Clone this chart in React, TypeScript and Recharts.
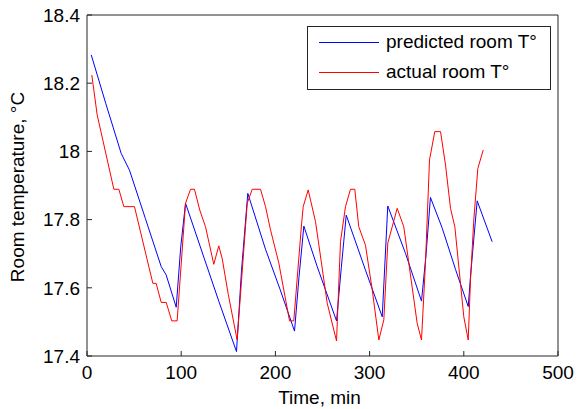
import { LineChart, Line, XAxis, YAxis } from 'recharts';

// time (min) / temperature (°C)
const predictedTime = [4.5, 20, 36.3, 45.1, 62, 78.8, 84, 94.7, 99.5, 104.6, 124, 140, 158.7, 164, 170.7, 189.5, 205, 220.3, 225, 230.2, 244.4, 264.9, 270, 275.2, 295.6, 313.4, 319.3, 338.1, 355.1, 360, 364.6, 377.1, 391.2, 404.7, 407.1, 414.2, 430.1];
const predictedTemp = [18.283, 18.14, 17.994, 17.945, 17.803, 17.662, 17.638, 17.543, 17.72, 17.848, 17.69, 17.56, 17.413, 17.65, 17.877, 17.713, 17.595, 17.473, 17.63, 17.781, 17.662, 17.503, 17.66, 17.813, 17.652, 17.515, 17.84, 17.701, 17.561, 17.70, 17.865, 17.775, 17.654, 17.545, 17.633, 17.855, 17.735];

const actualTime = [5.1, 10.8, 28.5, 33.8, 39.1, 50.4, 69.9, 73.4, 78.8, 84.1, 90, 95.7, 104.6, 109.9, 114.1, 119.7, 125.8, 134.6, 139.9, 143.5, 150, 159.4, 170.1, 175.4, 184.2, 189.5, 194.8, 203.6, 215, 219.5, 227.7, 229.5, 234.8, 242.6, 255, 264.9, 269.1, 274.4, 279.7, 284.3, 288.5, 295.6, 302.8, 309.8, 315.1, 319.3, 329.3, 336.3, 350.5, 355.1, 359.3, 363.6, 369.2, 375.3, 380.6, 385.9, 390.5, 400, 404.7, 407.1, 410.6, 414.9, 420.6];
const actualTemp = [18.224, 18.107, 17.889, 17.889, 17.838, 17.838, 17.613, 17.613, 17.557, 17.557, 17.503, 17.503, 17.848, 17.889, 17.889, 17.828, 17.779, 17.669, 17.723, 17.686, 17.58, 17.447, 17.848, 17.889, 17.889, 17.838, 17.77, 17.673, 17.503, 17.503, 17.784, 17.838, 17.887, 17.794, 17.555, 17.444, 17.735, 17.838, 17.889, 17.889, 17.779, 17.725, 17.594, 17.447, 17.506, 17.731, 17.833, 17.779, 17.496, 17.447, 17.672, 17.975, 18.058, 18.058, 17.96, 17.833, 17.779, 17.515, 17.447, 17.623, 17.799, 17.95, 18.004];

const xTicks = [0, 100, 200, 300, 400, 500];
const yTicks = [17.4, 17.6, 17.8, 18, 18.2, 18.4];

const seriesNames = ['predicted room T°', 'actual room T°'];
const seriesColors = ['#0000ff', '#ff0000'];

const FONT = '"Liberation Sans", Arial, sans-serif';
const AXIS = '#262626';

const predictedData = predictedTime.map((t, i) => ({ t, y: predictedTemp[i] }));
const actualData = actualTime.map((t, i) => ({ t, y: actualTemp[i] }));

function XTitle({ viewBox }: any) {
    return (
        <text x={viewBox.x + viewBox.width / 2 - 3} y={viewBox.y + 48} textAnchor="middle"
            fontFamily={FONT} fontSize={19} fill="#000">
            Time, min
        </text>
    );
}

function YTitle({ viewBox }: any) {
    const cx = 24;
    const cy = viewBox.y + viewBox.height / 2 + 1.5;
    return (
        <text x={cx} y={cy} transform={`rotate(-90, ${cx}, ${cy})`} textAnchor="middle"
            fontFamily={FONT} fontSize={19} fill="#000">
            Room temperature, °C
        </text>
    );
}

function LegendBox() {
    return (
        <div style={{
            position: 'absolute', left: 307, top: 26, width: 242, height: 62,
            border: `1px solid ${AXIS}`, background: '#fff', fontFamily: FONT, fontSize: 19, color: '#000'
        }}>
            {seriesNames.map((name, i) => (
                <div key={name} style={{ position: 'absolute', left: 0, top: 15 + i * 30 - 11, height: 22, width: '100%' }}>
                    <div style={{ position: 'absolute', left: 11, top: 11, width: 60, height: 1, background: seriesColors[i] }} />
                    <div style={{ position: 'absolute', left: 78, top: 0, lineHeight: '22px', whiteSpace: 'nowrap' }}>{name}</div>
                </div>
            ))}
        </div>
    );
}

export default function App() {
    const tickStyle = { fontFamily: FONT, fontSize: 19, fill: '#000' };
    return (
        <div style={{ position: 'absolute', left: 0, top: 0, width: 577, height: 409, background: '#fff' }}>
            <LineChart width={577} height={409} margin={{ top: 14, right: 18, bottom: 0, left: 0 }}>
                <XAxis xAxisId="bottom" dataKey="t" type="number" domain={[0, 500]} ticks={xTicks}
                    allowDataOverflow stroke={AXIS} height={53} tickSize={-5} tickMargin={15}
                    tick={tickStyle} label={<XTitle />} />
                <XAxis xAxisId="top" orientation="top" type="number" domain={[0, 500]} ticks={xTicks}
                    stroke={AXIS} height={1} tickSize={-5} tick={false} />
                <YAxis yAxisId="left" type="number" domain={[17.4, 18.4]} ticks={yTicks}
                    allowDataOverflow stroke={AXIS} width={87} tickSize={-5} tickMargin={12}
                    tick={tickStyle} tickFormatter={(v: number) => String(Number(v.toFixed(1)))}
                    label={<YTitle />} />
                <YAxis yAxisId="right" orientation="right" type="number" domain={[17.4, 18.4]} ticks={yTicks}
                    stroke={AXIS} width={1} tickSize={-5} tick={false} />
                <Line xAxisId="bottom" yAxisId="left" data={predictedData} dataKey="y" type="linear"
                    stroke={seriesColors[0]} strokeWidth={1} dot={false} isAnimationActive={false} />
                <Line xAxisId="bottom" yAxisId="left" data={actualData} dataKey="y" type="linear"
                    stroke={seriesColors[1]} strokeWidth={1} dot={false} isAnimationActive={false} />
            </LineChart>
            <LegendBox />
        </div>
    );
}
